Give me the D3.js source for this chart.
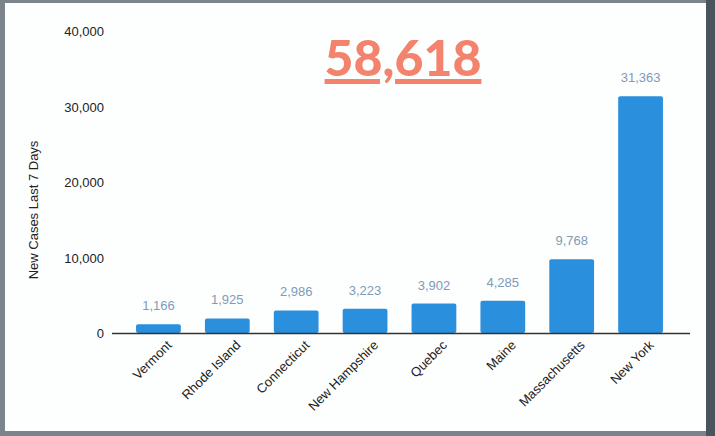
<!DOCTYPE html>
<html><head><meta charset="utf-8">
<script src="https://cdn.jsdelivr.net/npm/d3@7"></script>
<style>
html,body{margin:0;padding:0;background:#fff;}
svg{display:block;}
</style></head>
<body><svg id="c" width="715" height="436"></svg>
<script>
const categories = ["Vermont","Rhode Island","Connecticut","New Hampshire","Quebec","Maine","Massachusetts","New York"];
const values = [1166,1925,2986,3223,3902,4285,9768,31363];
const yTicks = [0,10000,20000,30000,40000];
const totalLabel = "58,618";
const yTitle = "New Cases Last 7 Days";

const svg = d3.select("#c");
// frame
svg.append("rect").attr("x",0).attr("y",0).attr("width",715).attr("height",436).attr("fill","#7b848b");
svg.append("rect").attr("x",706).attr("y",0).attr("width",9).attr("height",436).attr("fill","#4a545c");
svg.append("rect").attr("x",5).attr("y",3).attr("width",701).attr("height",428).attr("fill","#fdfefe");

const x = d3.scaleBand().domain(categories).range([124,675]).paddingInner(0.35).paddingOuter(0.175);
const y = d3.scaleLinear().domain([0,40000]).range([333,31]);

// y tick labels
const yAxis = d3.axisLeft(y).tickValues(yTicks).tickSize(0).tickPadding(0).tickFormat(d3.format(","));
const gy = svg.append("g").attr("transform","translate(104,0)").call(yAxis);
gy.select(".domain").remove();
gy.selectAll("text").attr("font-family","Liberation Sans, Arial, sans-serif").attr("font-size",13).attr("fill","#222").attr("dy","0.35em");

// y title
svg.append("text").attr("transform","translate(38,210) rotate(-90)").attr("text-anchor","middle")
  .attr("font-family","Liberation Sans, Arial, sans-serif").attr("font-size",13).attr("fill","#222").text(yTitle);

// bars
svg.append("g").selectAll("rect").data(values).join("rect")
  .attr("x",(d,i)=>x(categories[i])).attr("width",x.bandwidth())
  .attr("y",d=>y(d)).attr("height",d=>y(0)-y(d))
  .attr("rx",2).attr("fill","#2a8fdc");

// baseline
svg.append("line").attr("x1",112).attr("x2",690).attr("y1",y(0)+0.5).attr("y2",y(0)+0.5).attr("stroke","#333").attr("stroke-width",1.5);

// value labels
svg.append("g").selectAll("text").data(values).join("text")
  .attr("x",(d,i)=>x(categories[i])+x.bandwidth()/2).attr("y",d=>y(d)-14)
  .attr("text-anchor","middle").attr("font-family","Liberation Sans, Arial, sans-serif").attr("font-size",13)
  .attr("fill","#7f9bb8").text(d=>d3.format(",")(d));

// x axis labels
const xAxis = d3.axisBottom(x).tickSize(0).tickPadding(0);
const gx = svg.append("g").attr("transform",`translate(0,${y(0)})`).call(xAxis);
gx.select(".domain").remove();
gx.selectAll("text").attr("font-family","Liberation Sans, Arial, sans-serif").attr("font-size",13).attr("fill","#222")
  .attr("text-anchor","end").attr("dy",0)
  .attr("transform","translate(14,13) rotate(-45)");

// total
svg.append("text").attr("x",403).attr("y",76).attr("text-anchor","middle")
  .attr("font-family","Lato, 'Open Sans', sans-serif").attr("font-weight",900).attr("font-size",50)
  .attr("fill","#f3836c").attr("text-decoration","underline").text(totalLabel);
</script></body></html>
